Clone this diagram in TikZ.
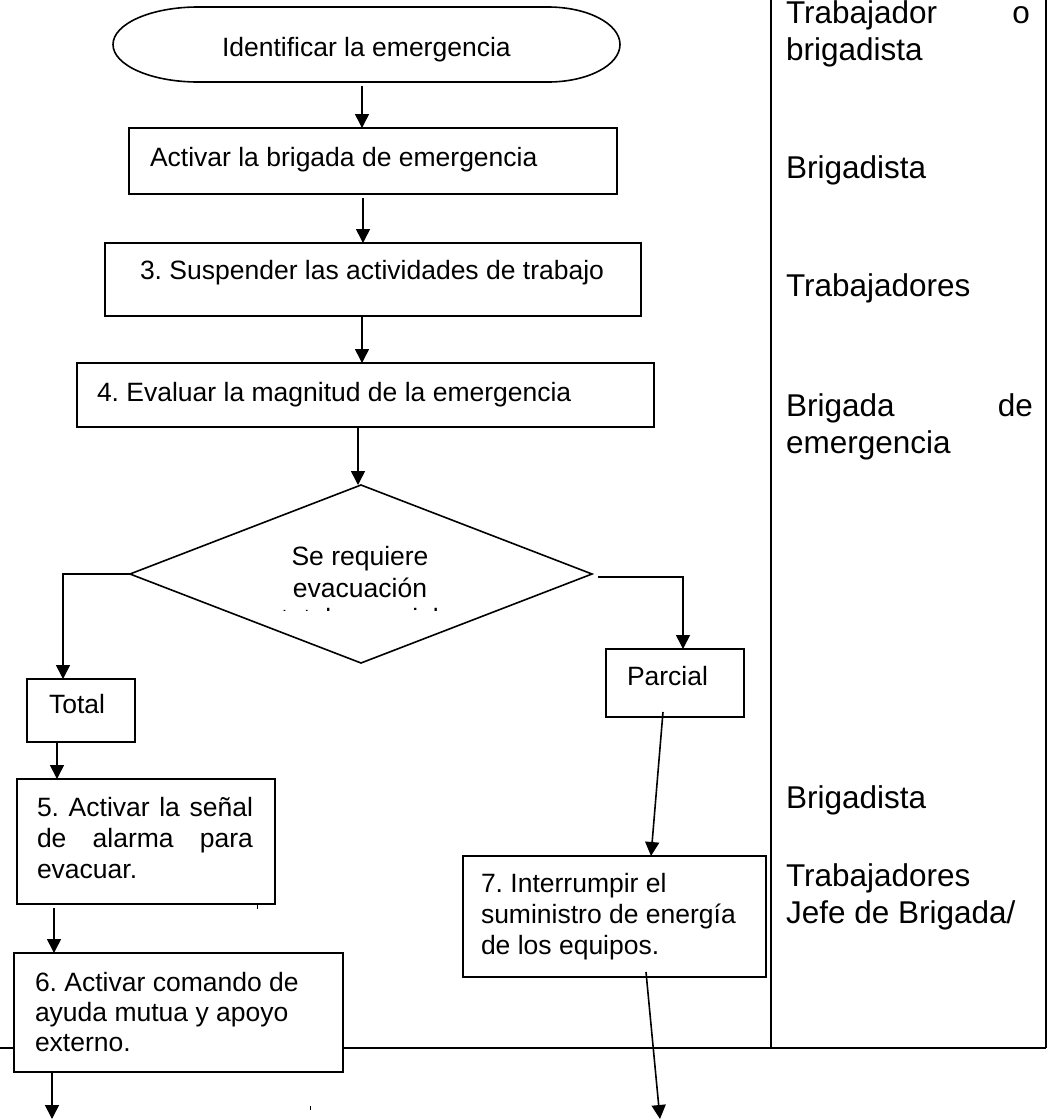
\documentclass[tikz,border=0pt]{standalone}
\usepackage{fontspec}
\setmainfont{Liberation Sans}
\usetikzlibrary{arrows.meta,shapes.geometric}
\frenchspacing
\begin{document}
\begin{tikzpicture}[x=1pt,y=-1pt,
  box/.style={draw, line width=1.6pt, fill=white, inner sep=0pt, outer sep=0pt, anchor=north west},
  txt/.style={anchor=base west, inner sep=0pt, outer sep=0pt, font=\fontsize{26.5}{31}\selectfont},
  ctxt/.style={anchor=base, inner sep=0pt, outer sep=0pt, font=\fontsize{26.5}{31}\selectfont},
  rtxt/.style={anchor=base west, inner sep=0pt, outer sep=0pt, font=\fontsize{31.5}{37}\selectfont},
  arr/.style={line width=1.6pt, -{Triangle[length=14pt,width=14pt]}},
  frame/.style={line width=2.6pt},
  tick/.style={line width=1pt}]
\useasboundingbox (0,0) rectangle (1051,1120);

% table frame
\draw[frame] (771,0) -- (771,1048) (1046,0) -- (1046,1048) (0,1048) -- (1046,1048);

% start terminator
\node[inner sep=0pt, outer sep=0pt, minimum width=507pt, minimum height=75pt] (n1) at (366.5,44.5) {};
\draw[line width=1.6pt, fill=white] ([xshift=85pt]n1.north west) -- ([xshift=-72pt]n1.north east)
  arc[start angle=90, end angle=-90, x radius=72pt, y radius=37.5pt]
  -- ([xshift=85pt]n1.south west)
  arc[start angle=270, end angle=90, x radius=85pt, y radius=37.5pt] -- cycle;
\node[txt] (t1) at (222,56) {Identificar la emergencia};

% boxes
\node[box, minimum width=488pt, minimum height=66pt] (b2) at (129,128) {};
\node[txt] (t2) at (150,166) {Activar la brigada de emergencia};
\node[box, minimum width=536pt, minimum height=73pt] (b3) at (105,243) {};
\node[txt] (t3) at (140,279) {3. Suspender las actividades de trabajo};
\node[box, minimum width=577pt, minimum height=64pt] (b4) at (77,363) {};
\node[txt] (t4) at (97,401) {4. Evaluar la magnitud de la emergencia};

% decision
\node[diamond, draw, line width=1.6pt, fill=white, inner sep=0pt, outer sep=0pt,
      minimum width=462pt, minimum height=178pt] (d) at (361,574) {};
\node[ctxt] (td1) at (360,565) {Se requiere};
\node[ctxt] (td2) at (360,597) {evacuación};
\begin{scope}
  \clip (250,596) rectangle (480,610);
  \node[ctxt] (td3) at (360,627) {total o parcial};
\end{scope}

\node[box, minimum width=108pt, minimum height=63pt] (tot) at (27,679) {};
\node[txt] (ttot) at (49,713) {Total};
\node[box, minimum width=138pt, minimum height=68pt] (par) at (606,649) {};
\node[txt] (tpar) at (627,685) {Parcial};

\node[box, minimum width=258pt, minimum height=125pt] (b5) at (17,779) {};
\node[txt] (t5) at (37,816) {\parbox[t]{216pt}{\makebox[216pt][s]{5. Activar la señal}\\
  \makebox[216pt][s]{de alarma para}\\evacuar.}};

\node[box, minimum width=329pt, minimum height=119pt] (b6) at (14,953) {};
\node[txt, font=\fontsize{26.5}{30}\selectfont] (t6) at (35,991) {\parbox[t]{300pt}{6. Activar comando de\\ayuda mutua y apoyo\\externo.}};

\node[box, minimum width=303pt, minimum height=121pt] (b7) at (463,856) {};
\node[txt] (t7) at (481,892) {\parbox[t]{280pt}{7. Interrumpir el\\suministro de energía\\de los equipos.}};

% free ends
\coordinate (e1) at (52,1119);
\coordinate (e2) at (660,1119);

% connectors
\draw[arr] ([xshift=-4.5pt,yshift=-4pt]n1.south) -- ([xshift=-4.5pt]n1.south |- b2.north);
\draw[arr] ([xshift=-10pt,yshift=-4pt]b2.south) -- ([xshift=-10pt]b2.south |- b3.north);
\draw[arr] ([xshift=-11pt,yshift=-1pt]b3.south) -- ([xshift=-11pt]b3.south |- b4.north);
\draw[arr] ([xshift=-7.5pt]b4.south) -- ([xshift=-7.5pt]b4.south |- d.north);
\draw[arr] (d.west) -| ([xshift=-18pt]tot.north);
\draw[arr] ([xshift=6pt,yshift=-3pt]d.east) -| ([xshift=8pt]par.north);
\draw[arr] ([xshift=-24pt]tot.south) -- ([xshift=-24pt]tot.south |- b5.north);
\draw[arr] ([xshift=-92pt,yshift=-4pt]b5.south) -- ([xshift=-92pt]b5.south |- b6.north);
\draw[arr] ([xshift=-126.5pt]b6.south) -- (e1);
\draw[arr] ([xshift=-12pt,yshift=5pt]par.south) -- ([xshift=36.5pt]b7.north);
\draw[arr] ([xshift=31.5pt,yshift=5pt]b7.south) -- (e2);

% stray marks
\draw[tick] (257,905) -- (257,909);
\draw[tick] (310,1106) -- (310,1110);

% responsible column
\node[rtxt] (r1) at (786,23) {\makebox[244pt][s]{Trabajador o}};
\node[rtxt] (r2) at (786,60) {brigadista};
\node[rtxt] (r3) at (786,178) {Brigadista};
\node[rtxt] (r4) at (786,296) {Trabajadores};
\node[rtxt] (r5) at (786,416) {\makebox[247pt][s]{Brigada de}};
\node[rtxt] (r6) at (786,453) {emergencia};
\node[rtxt] (r7) at (786,808) {Brigadista};
\node[rtxt] (r8) at (786,886) {Trabajadores};
\node[rtxt] (r9) at (786,923) {Jefe de Brigada/};
\end{tikzpicture}
\end{document}
